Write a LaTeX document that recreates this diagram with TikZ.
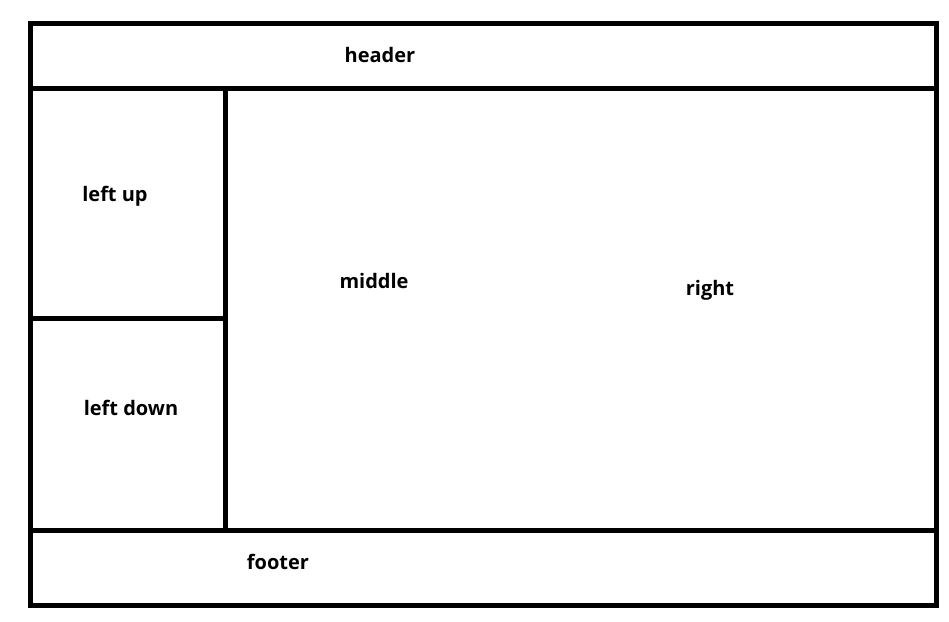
\documentclass[tikz,border=0pt]{standalone}
\usepackage{fontspec}
\setmainfont{Open Sans}
\usetikzlibrary{positioning, calc}

\begin{document}
\begin{tikzpicture}[
    x=1pt, y=-1pt,
    % Estilos
    frame/.style={line width=5pt, draw=black, line cap=rect},
    label/.style={font=\fontsize{20}{24}\selectfont\bfseries, text=black, inner sep=0pt}
]
    \useasboundingbox (0,0) rectangle (949,621);

    % 1. Esquinas y puntos de la rejilla
    \coordinate (tl) at (30.5, 23.5);
    \coordinate (br) at (936, 605);
    \coordinate (hdL) at (30.5, 88.5);
    \coordinate (hdR) at (936, 88.5);
    \coordinate (ftL) at (30.5, 530.5);
    \coordinate (ftR) at (936, 530.5);
    \coordinate (colT) at (225.5, 88.5);
    \coordinate (colB) at (225.5, 530.5);
    \coordinate (midL) at (30.5, 318.5);
    \coordinate (midR) at (225.5, 318.5);

    % 2. Marco y divisiones
    \draw[frame] (tl) rectangle (br);
    \draw[frame] (hdL) -- (hdR);
    \draw[frame] (ftL) -- (ftR);
    \draw[frame] (colT) -- (colB);
    \draw[frame] (midL) -- (midR);

    % 3. Textos
    \node[label] (header) at (380, 55)  {header};
    \node[label] (lup)    at (115, 196) {left up};
    \node[label] (ldown)  at (131, 408) {left down};
    \node[label] (middle) at (374, 281) {middle};
    \node[label] (right)  at (710, 290) {right};
    \node[label] (footer) at (278, 562) {footer};

\end{tikzpicture}
\end{document}
